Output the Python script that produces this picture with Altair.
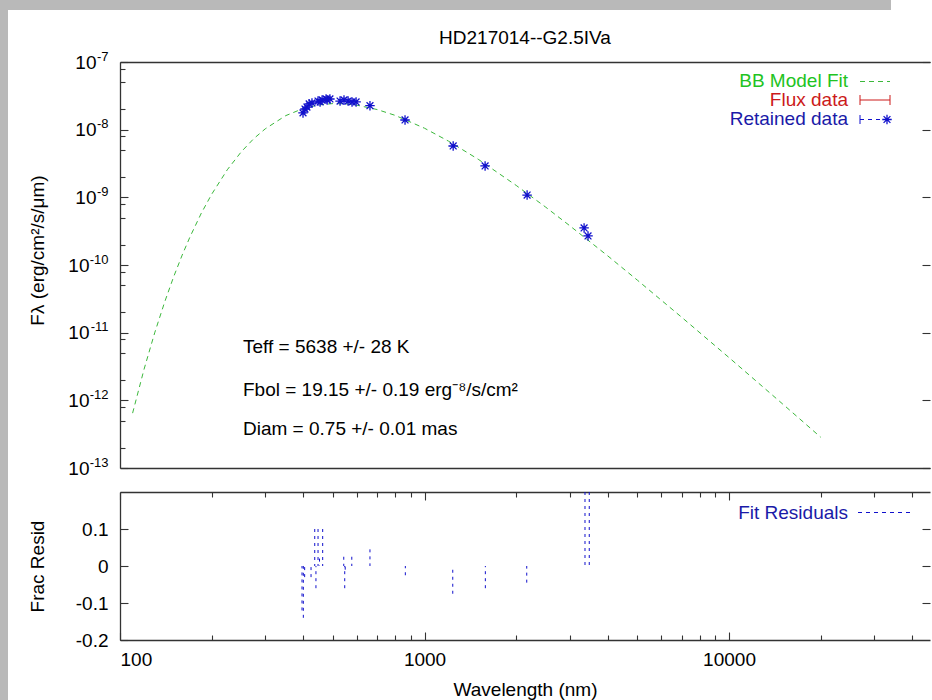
import altair as alt
import pandas as pd

# ---------------- data ----------------
model_wl = [110, 120, 130, 140, 150, 160, 170, 185, 200, 225, 250, 275, 300, 350, 400, 450,
            500, 550, 600, 700, 800, 1000, 1200, 1500, 2000, 2500, 3000, 4000, 5000, 7000,
            10000, 15000, 20000]
model_flux = [6.47e-13, 2.90e-12, 9.95e-12, 2.79e-11, 6.68e-11, 1.40e-10, 2.64e-10, 5.85e-10,
              1.11e-9, 2.55e-9, 4.69e-9, 7.38e-9, 1.03e-8, 1.61e-8, 2.06e-8, 2.32e-8,
              2.43e-8, 2.41e-8, 2.30e-8, 1.98e-8, 1.63e-8, 1.05e-8, 6.75e-9, 3.66e-9,
              1.50e-9, 7.16e-10, 3.80e-10, 1.36e-10, 5.97e-11, 1.68e-11, 4.28e-12, 8.83e-13,
              2.85e-13]

pts_wl = [399, 405, 411, 418, 427, 447, 454, 461, 475, 479, 489, 528, 544, 561, 578, 596,
          662, 863, 1242, 1581, 2172, 3342, 3443]
pts_flux = [1.77e-8, 2.02e-8, 2.16e-8, 2.40e-8, 2.48e-8, 2.65e-8, 2.57e-8, 2.75e-8, 2.84e-8,
            2.75e-8, 2.84e-8, 2.65e-8, 2.75e-8, 2.65e-8, 2.57e-8, 2.57e-8, 2.26e-8, 1.39e-8,
            5.74e-9, 2.91e-9, 1.08e-9, 3.53e-10, 2.69e-10]

res_wl = [396, 400, 404, 424, 436, 440, 447, 452, 463, 543, 547, 549, 577, 662, 865, 1238,
          1584, 2166, 3365, 3475]
res_val = [-0.12, -0.14, -0.03, -0.03, 0.10, -0.06, 0.10, 0.02, 0.10, 0.025, -0.06, -0.01,
           0.025, 0.045, -0.025, -0.075, -0.06, -0.045, 0.20, 0.20]

title_text = "HD217014--G2.5IVa"
annotations = ["Teff = 5638 +/- 28 K",
               "Fbol = 19.15 +/- 0.19 erg\u207b\u2078/s/cm\u00b2",
               "Diam = 0.75 +/- 0.01 mas"]
legend_top = ["BB Model Fit", "Flux data", "Retained data"]
legend_bottom = "Fit Residuals"
y_title_top = "F\u03bb (erg/cm\u00b2/s/\u03bcm)"
y_title_bottom = "Frac Resid"
x_title = "Wavelength (nm)"

x_major = [100, 1000, 10000]
x_minor = [200, 300, 400, 500, 600, 700, 800, 900,
           2000, 3000, 4000, 5000, 6000, 7000, 8000, 9000, 20000, 30000, 40000]
y_major = [1e-7, 1e-8, 1e-9, 1e-10, 1e-11, 1e-12, 1e-13]
y_major_1digit = [1e-7, 1e-8, 1e-9]          # labels 10^-7 .. 10^-9
y_major_2digit = [1e-10, 1e-11, 1e-12, 1e-13]  # labels 10^-10 .. 10^-13
y_minor = [k * 10.0 ** e for e in range(-13, -7) for k in (2, 5, 8)]
r_ticks = [-0.2, -0.1, 0, 0.1]
r_inner = [-0.1, 0, 0.1]

# ---------------- style ----------------
FONT = "Liberation Sans"
FS = 19
GREEN_LINE = "#3cb83c"
GREEN_TXT = "#22c322"
RED = "#cc1a1a"
BLUE_PT = "#1010cc"
BLUE_TXT = "#1a1aa8"
AX = "#333333"
AST = "M-1,0L1,0M0,-1L0,1M-0.72,-0.72L0.72,0.72M-0.72,0.72L0.72,-0.72"

W, H1, H2 = 810, 406, 148

xscale = alt.Scale(type="log", domain=[100, 45700], nice=False)
ytop = alt.Scale(type="log", domain=[1e-13, 1e-7], nice=False)
ybot = alt.Scale(domain=[-0.2, 0.2], nice=False, zero=False)

model_df = pd.DataFrame({"wl": model_wl, "flux": model_flux})
pts_df = pd.DataFrame({"wl": pts_wl, "flux": pts_flux})
res_df = pd.DataFrame({"wl": res_wl, "r": res_val})


def ax(**kw):
    base = dict(grid=False, labels=False, ticks=False, domain=False, title=None,
                domainColor=AX, domainWidth=1.3, tickColor=AX, tickWidth=1.1,
                labelFont=FONT, labelFontSize=FS, labelColor="black",
                titleFont=FONT, titleFontSize=FS, titleFontWeight="normal", titleColor="black")
    base.update(kw)
    return alt.Axis(**base)


one = pd.DataFrame({"t": [""]})


def text(s, x, y, color="black", align="left"):
    return alt.Chart(pd.DataFrame({"t": [s]})).mark_text(
        align=align, baseline="alphabetic", font=FONT, fontSize=FS, color=color
    ).encode(x=alt.value(x), y=alt.value(y), text="t:N")


def seg(x1, x2, y1, y2, color, dash=None, width=1.0):
    kw = dict(color=color, strokeWidth=width)
    if dash:
        kw["strokeDash"] = dash
    return alt.Chart(one).mark_rule(**kw).encode(
        x=alt.value(x1), x2=alt.value(x2), y=alt.value(y1), y2=alt.value(y2))


def ghost_top(yaxis):
    return alt.Chart(model_df).mark_line(opacity=0).encode(
        x=alt.X("wl:Q", scale=xscale, axis=None),
        y=alt.Y("flux:Q", scale=ytop, axis=yaxis))


label_expr_bot = ("datum.value == 0 ? '0' : (datum.value < 0 ? '-' + format(-datum.value, '.1f') "
                  ": format(datum.value, '.1f'))")
label_expr_exp = "'-' + round(-log(datum.value)/LN10)"

# ---------------- top panel ----------------
t_line = alt.Chart(model_df).mark_line(color=GREEN_LINE, strokeDash=[5, 4], strokeWidth=1).encode(
    x=alt.X("wl:Q", scale=xscale, axis=ax(orient="bottom", domain=True)),
    y=alt.Y("flux:Q", scale=ytop, axis=ax(orient="left", values=y_major, ticks=True,
                                            tickSize=8, offset=-8)))
t_pts = alt.Chart(pts_df).mark_point(shape=AST, size=90, filled=False, color=BLUE_PT,
                                     strokeWidth=1.3, opacity=1).encode(
    x=alt.X("wl:Q", scale=xscale, axis=ax(orient="top", domain=True)),
    y=alt.Y("flux:Q", scale=ytop, axis=ax(orient="left", values=y_minor, ticks=True,
                                            tickSize=5, offset=-5)))

top_layers = [
    ghost_top(ax(orient="left", domain=True, title=y_title_top, titleX=-77, titleY=188,
                 titleAngle=270, titleBaseline="alphabetic")),
    ghost_top(ax(orient="right", values=y_major, ticks=True, tickSize=8, offset=-8)),
    # "10" part of the tick labels
    ghost_top(ax(orient="left", values=y_major_1digit, labels=True, ticks=True, tickOpacity=0,
                 tickSize=8, offset=-8, labelPadding=24, labelExpr="'10'")),
    ghost_top(ax(orient="left", values=y_major_2digit, labels=True, ticks=True, tickOpacity=0,
                 tickSize=8, offset=-8, labelPadding=31, labelExpr="'10'")),
    # exponent part of the tick labels
    ghost_top(ax(orient="left", values=y_major, labels=True, ticks=True, tickOpacity=0,
                 tickSize=8, offset=-8, labelPadding=12, labelFontSize=13, labelOffset=-6,
                 labelExpr=label_expr_exp)),
    t_line, t_pts,
    text(title_text, W / 2, -18, align="center"),
    text(annotations[0], 123, 291),
    text(annotations[1], 123, 334),
    text(annotations[2], 123, 373),
    text(legend_top[0], 728, 25, GREEN_TXT, "right"),
    text(legend_top[1], 728, 44, RED, "right"),
    text(legend_top[2], 728, 63, BLUE_TXT, "right"),
    seg(740, 770, 19.5, 19.5, GREEN_LINE, [5, 4]),
    seg(740, 770, 38, 38, RED),
    seg(740, 740, 33, 43, RED),
    seg(770, 770, 33, 43, RED),
    seg(740, 764, 57.5, 57.5, BLUE_PT, [4, 4]),
    seg(740, 740, 53, 62, BLUE_PT),
    alt.Chart(one).mark_point(shape=AST, size=90, filled=False, color=BLUE_PT,
                              strokeWidth=1.3, opacity=1).encode(
        x=alt.value(767), y=alt.value(57.5)),
]

top = alt.layer(*top_layers).resolve_axis(x="independent", y="independent").properties(
    width=W, height=H1)


# ---------------- bottom panel ----------------
def ghost(xaxis, yaxis):
    return alt.Chart(res_df).mark_point(opacity=0).encode(
        x=alt.X("wl:Q", scale=xscale, axis=xaxis),
        y=alt.Y("r:Q", scale=ybot, axis=yaxis))


b_rules = alt.Chart(res_df).mark_rule(color=BLUE_PT, strokeDash=[3, 4], strokeWidth=1).encode(
    x=alt.X("wl:Q", scale=xscale,
            axis=ax(orient="bottom", values=x_major, labels=True, ticks=True, tickSize=8,
                    offset=-8, labelPadding=10, format="d", title=x_title, titleY=63,
                    titleBaseline="alphabetic")),
    y=alt.Y("r:Q", scale=ybot,
            axis=ax(orient="left", values=r_ticks, labels=True, ticks=True, tickSize=8,
                    offset=-8, labelPadding=12, labelExpr=label_expr_bot)),
    y2=alt.datum(0))

bottom_layers = [
    ghost(ax(orient="bottom", values=x_minor, ticks=True, tickSize=5, offset=-5),
          ax(orient="left", domain=True, title=y_title_bottom, titleX=-77, titleAngle=270,
             titleBaseline="alphabetic")),
    ghost(ax(orient="bottom", domain=True),
          ax(orient="right", values=r_inner, ticks=True, tickSize=8, offset=-8)),
    ghost(ax(orient="top", values=x_major, ticks=True, tickSize=8, offset=-8), None),
    ghost(ax(orient="top", values=x_minor, ticks=True, tickSize=5, offset=-5), None),
    ghost(ax(orient="top", domain=True), None),
    b_rules,
    text(legend_bottom, 728, 27, BLUE_TXT, "right"),
    seg(738, 792, 20.5, 20.5, BLUE_PT, [4, 4]),
    # page frame strips (grey) at the left and top edges of the picture
    alt.Chart(one).mark_rect(color="#b9b9b9").encode(
        x=alt.value(-120), x2=alt.value(-112), y=alt.value(-492), y2=alt.value(208)),
    alt.Chart(one).mark_rect(color="#b9b9b9").encode(
        x=alt.value(-120), x2=alt.value(771), y=alt.value(-492), y2=alt.value(-482)),
]

bottom = alt.layer(*bottom_layers).resolve_axis(x="independent", y="independent").properties(
    width=W, height=H2)

chart = alt.vconcat(top, bottom, spacing=24, bounds="flush").properties(
    padding=0, background="white"
).configure_view(stroke=None)

chart.save("out.html", embed_options={"renderer": "svg", "actions": False})
